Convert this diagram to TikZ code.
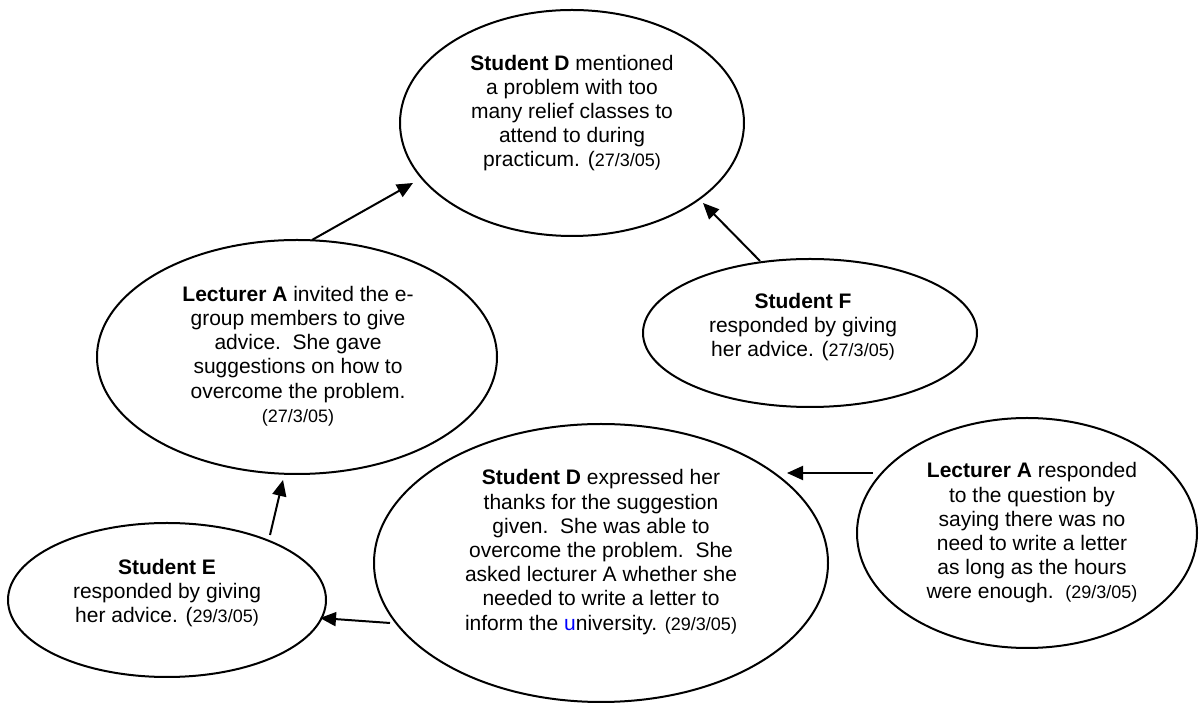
\documentclass[tikz,border=0pt]{standalone}
\usepackage{fontspec}
\setmainfont{Liberation Sans}
\usetikzlibrary{arrows.meta,calc,shapes.geometric}
\definecolor{ublue}{RGB}{0,0,255}
\newcommand{\dt}[1]{{\fontsize{9}{10}\selectfont #1}}
\begin{document}
\begin{tikzpicture}[x=0.5pt,y=-0.5pt,
  bub/.style={draw, ellipse, line width=1pt, inner sep=0pt},
  txt/.style={align=center, font=\fontsize{10.5}{12.1}\selectfont, inner sep=0pt},
  arr/.style={line width=1pt, -{Triangle[length=8pt,width=7pt]}}]
\useasboundingbox (0,0) rectangle (1200,704);
\node[bub, minimum width=172pt, minimum height=113pt] (e1) at (572,123) {};
\node[bub, minimum width=200pt, minimum height=117pt] (e2) at (297,357) {};
\node[bub, minimum width=167pt, minimum height=74pt] (e3) at (810,333) {};
\node[bub, minimum width=170pt, minimum height=115pt] (e4) at (1027,533) {};
\node[bub, minimum width=227pt, minimum height=139pt] (e5) at (601,563) {};
\node[bub, minimum width=159pt, minimum height=77pt] (e6) at (167,600) {};

\node[txt] (t1) at (572,113) {\textbf{Student D} mentioned\\a problem with too\\many relief classes to\\attend to during\\practicum. (\dt{27/3/05)}};
\node[txt] (t2) at (298,356) {\textbf{Lecturer A} invited the e-\\group members to give\\advice.\ \ She gave\\suggestions on how to\\overcome the problem.\\\dt{(27/3/05)}};
\node[txt] (t3) at (803,327) {\textbf{Student F}\\responded by giving\\her advice. (\dt{27/3/05)}};
\node[txt] (t4) at (1032,533) {\textbf{Lecturer A} responded\\to the question by\\saying there was no\\need to write a letter\\as long as the hours\\were enough.\ \ \dt{(29/3/05)}};
\node[txt] (t5) at (601,552) {\textbf{Student D} expressed her\\thanks for the suggestion\\given.\ \ She was able to\\overcome the problem.\ \ She\\asked lecturer A whether she\\needed to write a letter to\\inform the \textcolor{ublue}{u}niversity. \dt{(29/3/05)}};
\node[txt] (t6) at (167,593) {\textbf{Student E}\\responded by giving\\her advice. (\dt{29/3/05)}};

\draw[arr] ($(e2)+(15,-117)$) -- ($(e1)+(-159,60)$);
\draw[arr] ($(e3)+(-50,-72)$) -- ($(e1)+(131,80)$);
\draw[arr] ($(e6)+(103,-65)$) -- ($(e2)+(-14,123)$);
\draw[arr] ($(e5)+(-211,60)$) -- ($(e6)+(153,18)$);
\draw[arr] ($(e4)+(-154,-60)$) -- ($(e5)+(186,-90)$);
\end{tikzpicture}
\end{document}
